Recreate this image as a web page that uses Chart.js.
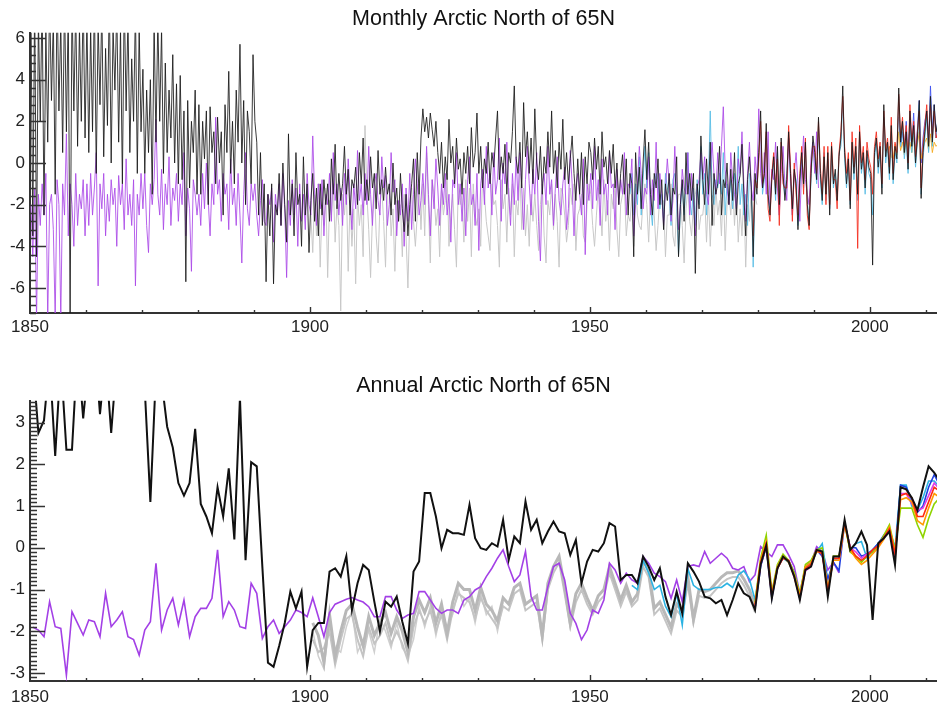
<!DOCTYPE html>
<html>
<head>
<meta charset="utf-8">
<title>Arctic North of 65N</title>
<script src="https://cdn.jsdelivr.net/npm/chart.js@4.4.1/dist/chart.umd.min.js"></script>
<style>
  html, body { margin: 0; padding: 0; background: #fff; }
  #wrap { position: relative; width: 937px; height: 709px; overflow: hidden; }
  canvas { position: absolute; left: 0; }
  #monthly { top: 0; }
  #annual { top: 350px; }
</style>
</head>
<body>
<div id="wrap">
  <canvas id="monthly" width="937" height="350"></canvas>
  <canvas id="annual" width="937" height="359"></canvas>
</div>
<script>
// ── Axes / labels ──────────────────────────────────────
const X_TICKS = [1850, 1900, 1950, 2000];
const Y_TICKS_MONTHLY = [-6, -4, -2, 0, 2, 4, 6];
const Y_TICKS_ANNUAL = [-3, -2, -1, 0, 1, 2, 3];
const TITLE_MONTHLY = 'Monthly Arctic North of 65N';
const TITLE_ANNUAL = 'Annual Arctic North of 65N';

// ── Monthly series (3 samples per year) ──
const blackMonthlyStart = 1850;
const blackMonthly = [
  7.5,-3.5,8, -4.5,7,2.0, 8,-2.5,6.5, 1.0,8,3.0, 7,-1.5,8.5, 2.5,6.8,0.5, 8,1.5,7.5, -7.5,8,2.5, 7.5,0.8,6.5, 2.0,8,1.2,
  7,0.5,6.5, 1.5,8,-0.5, 6.8,2.8,7.5, 0.3,5.5,1.8, 8,0.0,6.5, 3.5,7.5,1.0, 6.5,-1.0,8, 2.5,7.0,0.5, 5.0,2.0,7.5, -0.5,6.5,1.5,
  4.5,-0.5,3.5, 0.5,4.0,-1.5, 6.8,1.0,7.0, 2.0,6.5,-0.5, 4.8,0.5,3.5, 1.2,5.2,0.0, 3.8,-1.0,4.2, -0.8,2.5,-5.7, 3.0,-1.2,2.0, 0.5,3.5,-1.5,
  2.8,-1.5,2.0, 0.2,2.5,-2.0, 2.7,0.5,1.5, -1.0,2.2,0.0, 1.5,-2.5,2.8, 0.5,4.4,-0.5, 2.0,-1.0,3.5, 1.0,5.7,0.0, 3.0,-2.0,2.5, 1.5,-1.0,5.2,
  2.0,1.0,-2.5, 0.5,-3.0,-1.0, -5.7,-1.5,-3.5, -1.0,-5.8,-2.0, -2.5,-0.5,-3.0, 0.0,-2.0,-3.8, 1.4,-2.5,-1.0, -3.5,0.5,-2.0, -1.5,-4.0,0.3, -2.5,-1.0,-4.3,
  -1.8,-0.5,-2.8, -1.2,-3.5,-1.0, -2.5,-0.8,-2.0, -1.0,-2.8,0.2, -1.5,0.9,-2.2, -0.5,-1.8,-1.0, 0.8,-1.5,-0.3, -2.5,-0.8,-1.2, -0.2,-2.0,0.5, -1.0,1.2,-1.8,
  -0.8,-1.8,0.3, -1.2,-0.5,-2.2, 0.6,-1.5,-0.8, -1.8,-0.2,-1.5, -1.0,-2.5,0.0, -2.0,-1.2,-2.8, -0.5,-2.2,-3.3, -1.5,-3.5,-2.0, -1.0,0.2,-2.8, 0.5,-1.5,1.2,
  2.6,1.5,2.2, 1.2,2.4,1.6, 0.8,2.0,0.5, -0.5,1.0,-1.2, 0.3,-0.8,2.1, 0.0,0.8,-1.0, 1.2,-0.3,0.2, -1.5,0.5,-0.5, 0.8,-1.0,1.7, -0.2,0.5,2.4,
  -0.5,0.8,-1.2, 0.2,-0.5,1.0, -1.0,0.5,-0.2, 1.2,2.5,-0.8, 0.3,-0.5,0.9, -1.5,0.5,0.0, 1.5,3.7,0.2, -0.5,1.0,-1.2, 2.9,0.3,1.5, -0.5,1.2,-1.0,
  2.6,0.0,-0.8, 0.8,-1.5,0.3, -0.5,1.5,-0.2, 2.5,-0.5,0.6, -1.2,1.0,-0.3, 2.1,-0.8,0.5, -1.0,0.2,1.3, -0.5,-1.8,0.2, -1.5,0.5,-2.0, 0.3,-1.0,1.0,
  0.5,-0.8,1.2, -0.3,0.8,-1.5, 1.5,-0.2,0.3, -1.0,0.6,-0.5, 0.9,-1.2,0.0, -2.0,-0.5,0.4, -1.5,0.2,-2.5, -0.5,-1.0,-4.5, 0.5,-1.5,-0.2, -2.2,0.0,1.6,
  -0.8,1.0,-1.5, -2.5,-0.5,-1.2, 0.2,-2.0,-0.8, -3.2,-1.0,-1.8, -0.5,-2.5,-1.2, -1.5,0.3,-4.5, -2.0,-0.8,-2.8, 0.5,-1.5,-0.5, -1.8,-0.5,-5.3, -1.0,-2.2,1.3,
  -0.8,-2.0,0.2, -1.5,1.0,-3.0, -0.5,-1.5,-1.0, 0.8,-2.5,-0.8, -1.2,0.0,-2.0, -0.3,-1.8,0.5, -2.5,-1.0,-0.6, 0.9,-1.5,-3.5, -0.8,0.3,-1.2, -4.5,-0.5,-1.5,
  0.5,2.5,-1.2, -0.5,1.9,-1.5, -2.5,-0.8,0.3, -1.5,0.8,-2.0, 1.2,-0.5,-1.8, -0.8,1.5,-0.5, -2.2,-0.3,-1.0, -3.2,-0.8,0.5, -1.0,1.0,-2.0, -3.0,-0.5,1.3,
  0.5,-0.8,2.2, -0.5,-1.8,0.3, -1.5,0.5,-2.5, 0.8,-1.0,-0.3, -1.8,0.3,1.2, 3.7,0.5,-1.0, 0.2,-2.2,1.0, -0.5,0.8,-1.5, 1.5,-0.3,0.5, -1.2,0.6,-0.2,
  -0.5,-4.9,0.5, 1.2,-0.2,0.8, -1.5,2.8,0.3, 1.0,-0.5,1.8, -0.8,0.8,0.2, 3.6,1.0,2.0, 0.5,1.5,-0.3, 2.5,0.8,1.8, 0.0,1.2,3.0, -1.7,0.5,1.5,
  2.5,0.8,3.2, 1.0,2.8,1.5, 2.0,0.8,1.8
];

const purpleMonthlyStart = 1850;
const purpleMonthly = [
  -2.0,-4.5,-1.2, -7.5,-1.5,-3.0, -1.0,-2.5,-0.5, -7.5,-2.0,-1.5, -3.2,-7.5,-0.8, -2.0,-7.5,-1.0, -2.5,1.4,-3.5, -1.0,-2.0,-4.0, -0.5,-3.0,-1.5, -2.2,-0.8,-3.5,
  -1.0,-3.0,-0.5, -2.5,-1.2,0.5, -5.9,-1.0,-2.2, -0.5,-3.5,-1.5, -2.8,-0.8,-2.0, -1.2,-4.0,-0.6, -2.0,-1.0,-3.2, 0.2,-2.5,-1.5, -3.0,-0.8,-5.9, -1.5,-2.5,-0.5,
  -2.2,-0.5,-3.0, -4.3,-1.0,-2.0, -0.8,2.1,-1.5, -2.5,-0.3,-3.2, -1.0,-2.0,0.3, -3.0,-1.2,-1.8, -0.5,-2.8,-1.0, -2.0,0.5,-3.5, -1.2,-2.2,-5.2, -0.8,-1.5,-2.5,
  -1.5,-3.0,-0.5, -2.2,0.0,-1.8, -3.5,-1.0,-2.0, 2.2,-1.5,-0.8, -2.8,-0.5,-1.5, -1.0,-3.2,0.2, -2.0,-1.2,-3.0, -0.5,-2.5,-4.8, -1.5,0.5,-2.2, -3.0,-1.0,-1.8,
  -1.0,-2.5,-3.5, -1.8,-0.8,-2.8, -3.0,-1.5,-2.0, -1.2,-3.8,-1.5, -2.5,-1.0,-3.0, -0.5,-2.2,-5.5, -1.8,-3.0,-0.8, -2.5,-1.2,-4.0, -1.0,-2.8,-1.5, -3.2,-0.5,-2.0,
  -2.5,1.3,-1.5, -3.0,-1.0,-2.2, -0.8,-3.5,-1.5, -2.0,-0.5,-2.8, 0.5,-1.8,-1.0, -2.5,-1.2,-3.0, -0.5,-2.0,0.2, -1.5,-3.2,-1.0, -2.2,0.6,-1.8, -1.0,-2.5,-0.5,
  -2.0,0.8,-1.5, -3.0,-1.0,-0.5, -1.8,-2.5,0.3, -1.2,-0.6,-3.0, -2.0,0.5,-1.4, -0.8,-3.5,-1.8, -2.5,-1.0,-4.0, -1.2,-2.8,-0.5, -3.2,-1.5,0.2, -1.0,-2.5,-1.8,
  -0.5,-2.0,0.8, -1.5,-3.5,-0.8, -2.2,0.2,-1.2, -3.0,-1.0,-2.0, -0.5,-2.5,-1.5, -3.8,-0.8,-1.2, 0.5,-2.0,-1.0, -2.8,-1.2,-3.5, -0.8,0.3,-2.0, -1.5,-3.0,-0.5,
  -4.2,-1.0,-0.3, -2.0,0.8,-1.2, -0.5,-2.5,0.5, -1.5,-0.8,1.2, -2.8,0.0,-1.0, 1.0,-1.5,-3.0, -0.5,-2.0,0.3, -1.8,0.5,-1.2, -3.2,-0.8,0.8, -1.0,-2.5,-0.3,
  -1.5,0.5,-2.8, -4.7,-1.0,-0.5, -2.0,0.8,-1.5, -0.8,-3.0,-1.2, 0.3,-1.8,-2.5, -1.0,-0.2,-3.2, -2.2,0.6,-1.0, -3.5,-1.2,-0.5, -1.5,-2.5,0.2, -4.4,-1.0,-1.8,
  -0.5,-2.2,0.8, -1.8,-0.8,-3.0, 0.2,-1.5,-1.0, -2.5,0.5,-1.2, -1.0,-3.2,-0.3, -2.0,-0.8,-1.5, 0.5,-2.5,-1.0, -1.2,0.2,-3.5, -2.0,-1.0,0.8, -0.5,-2.2,-1.2,
  -1.5,0.3,-2.5, -0.8,-1.8,1.0, -2.2,-0.5,-1.5, -3.0,-1.2,0.2, -1.0,-2.8,-1.8, 0.8,-1.5,-3.2, -2.0,-0.3,-1.2, -1.5,0.5,-2.5, -0.5,-1.8,-3.5, -1.2,-0.8,0.5,
  -0.8,0.3,-1.5, -2.0,-0.3,1.0, -0.5,-1.5,0.5, -1.0,0.8,2.7, -0.3,-1.2,-2.0, 0.5,-0.8,-1.5, -2.2,0.2,-0.5, 1.5,-1.0,-2.8, -0.5,1.0,-1.2, -1.8,0.3,-0.8,
  2.6,-0.5,-1.2, 0.5,-1.5,1.5, -2.0,-0.3,-0.8, 1.0,-1.2,-2.5, -0.5,0.8,-1.0, -1.8,1.2,-0.3, -2.5,-0.5,0.5, -1.0,-2.8,-0.2, 1.3,-0.8,-1.5, -2.0,0.3,1.0,
  -0.5,1.5,-1.2
];

const grayMonthlyStart = 1900;
const grayMonthly = [
  -2.5,-4.3,-1.5, -3.5,-1.0,-5.0, -2.0,-3.0,-1.2, -5.5,-1.8,-2.5, -1.0,-3.8,-2.0, -3.0,-7.1,-1.5, -2.5,-1.0,-5.2, -1.8,-4.0,-2.2, -5.8,-1.5,-3.0, -2.0,-4.5,1.8,
  -1.5,-3.2,-5.5, -2.5,-0.8,-3.5, -4.8,-2.0,-1.2, -2.8,-5.0,-1.5, -1.0,-3.5,-2.2, -5.2,-1.8,-2.8, -2.0,-4.5,-1.5, -3.5,-6.0,-2.5, -1.2,-2.8,-4.0, -2.5,-1.0,-3.2,
  -1.0,-3.5,0.5, -2.0,-4.8,-0.8, -1.5,-3.0,-2.2, -4.5,-1.2,-2.5, -1.8,-0.5,-4.0, -2.5,-1.5,-3.2, -5.0,-1.0,-2.0, -1.5,-3.8,-0.8, -2.8,-1.2,-4.5, -1.0,-2.5,-3.0,
  -2.2,-4.0,-0.5, -1.5,-2.8,-3.5, -4.2,-1.0,-2.0, -1.8,-3.0,-5.0, -0.8,-2.2,-1.5, -3.8,-1.2,-2.5, -1.0,-4.5,-1.8, -2.5,-0.5,-3.2, -1.2,-3.5,-2.0, -4.0,-1.5,-2.8,
  -1.5,-3.0,-4.2, -2.0,-1.0,-3.5, -4.8,-1.8,-2.5, -1.0,-3.2,-1.5, -2.8,-5.0,-1.2, -1.5,-2.5,-3.8, -3.0,-1.2,-2.0, -1.0,-4.2,-2.5, -2.2,-1.5,-3.5, -3.8,-2.0,-1.0,
  -1.5,-3.0,-4.0, -2.5,-1.2,-2.0, -3.5,-0.8,-2.8, -1.8,-4.2,-1.5, -2.2,-1.0,-3.2, -4.5,-2.0,-1.5, -1.2,-3.5,-2.5, -2.8,-1.5,-4.0, -1.0,-2.5,-3.0, -3.2,-1.8,-1.0,
  -2.0,-3.8,-1.5, -1.2,-2.5,-4.2, -3.0,-1.5,-2.0, -1.8,-4.5,-2.5, -2.5,-1.0,-3.5, -4.0,-2.2,-1.5, -1.5,-3.0,-4.8, -2.2,-1.2,-2.8, -3.5,-2.0,-1.5, -1.0,-3.2,-2.5,
  -2.5,-1.5,-3.8, -1.5,-4.0,-2.0, -3.0,-1.2,-2.5, -1.8,-3.5,-1.0, -4.2,-2.0,-1.5, -2.5,-1.0,-3.0, -1.2,-3.8,-2.2, -3.5,-1.5,-5.0, -2.0,-2.8,-1.2, -3.2,-1.5,-2.0
];

const cyanMonthlyStart = 1957;
const cyanMonthly = [
  -1.5,-0.5,-2.5, -1.0,-2.0,0.3, -2.5,-0.8,0.8,
  -1.2,0.5,-2.0, -3.0,-1.0,-0.5, -0.8,-2.2,-1.5, -2.8,-0.5,-1.2, -1.5,-3.0,-0.8, -0.5,-1.8,-4.4, -2.2,-1.0,-2.5, -1.0,0.5,-1.8, -2.5,-1.2,-3.0, -0.8,-2.0,0.8,
  -1.5,-0.5,-2.5, -1.0,2.5,-1.5, -2.0,-0.8,-1.2, -0.5,-1.5,0.5, -2.5,-1.0,-1.8, -0.8,-2.2,-0.5, -1.5,0.8,-2.0, -1.0,-2.5,-1.5, -3.0,-0.5,-1.0, -5.0,-1.2,-0.8,
  0.5,1.5,-1.5, -0.8,1.2,-1.8, -2.2,-0.5,0.0, -1.8,0.5,-2.5, 0.8,-0.8,-1.5, -0.5,1.2,-1.0, -2.5,-0.5,-0.8, -3.0,-1.0,0.2, -1.2,0.8,-1.8, -2.8,-0.8,1.0,
  0.2,-1.0,1.8, -0.8,-2.0,0.5, -1.8,0.2,-2.2, 0.5,-1.2,-0.5, -1.5,0.5,0.8, 3.0,0.2,-1.2, 0.0,-2.0,0.8, -0.8,0.5,-1.8, 1.2,-0.5,0.3, -1.5,0.3,-0.5,
  -0.8,-2.5,0.2, 1.0,-0.5,0.5, -1.2,2.2,0.0, 0.8,-0.8,1.5, -1.0,0.5,0.0, 3.2,0.8,1.8, 0.2,1.2,-0.5, 2.2,0.5,1.5, -0.2,1.0,2.8, -1.5,0.2,1.2,
  2.2,0.5,3.0, 0.8,2.5,1.2, 1.8,0.5,1.5
];

const redMonthlyStart = 1979;
const redMonthly = [
  -3.5,-0.8,-1.2,
  0.2,2.0,-1.0, -0.5,1.5,-2.2, -2.8,-0.5,0.5, -1.2,0.2,-3.0, 1.0,-1.0,-1.2, -1.2,1.8,-0.2, -2.8,0.0,-1.5, -2.5,-0.5,0.8, -1.5,1.2,-2.5, -3.2,-0.2,0.8,
  0.8,-0.5,2.0, -0.2,-1.5,0.8, -2.0,0.8,-2.0, 1.0,-0.8,-0.8, -2.2,0.5,1.5, 3.2,0.8,-0.5, 0.5,-1.8,1.5, -0.2,1.2,-4.1, 1.8,0.0,0.8, -0.8,1.0,0.2,
  -0.2,-1.5,0.8, 1.5,0.2,1.0, -1.0,2.5,0.6, 1.2,-0.2,2.2, -0.5,1.0,0.5, 3.3,1.2,2.2, 0.8,1.8,0.0, 2.8,1.0,2.0, 0.3,1.5,2.5, -1.2,0.8,1.8,
  2.8,1.0,2.8, 1.2,2.5,1.2, 1.5,1.0,1.5
];

const orangeMonthlyStart = 2003;
const orangeMonthly = [
  0.5,0.8,0.3, 0.2,0.9,0.4, 1.5,0.6,1.0, 0.4,1.2,0.7, 1.0,0.5,1.3, 0.6,0.9,1.5, 0.2,0.7,1.0, 1.2,0.6,1.4, 0.5,1.0,0.8, 0.9,0.5,0.7
];

const blueMonthlyStart = 2005;
const blueMonthly = [
  2.2,0.8,1.5, 0.6,2.0,0.3, 1.8,0.8,2.4, 0.5,1.6,3.0, 0.0,1.2,2.0, 2.5,1.0,3.7, 1.5,2.8,1.2, 2.2,1.0,2.8
];

// ── Annual series (one value per year) ──
const blackAnnualStart = 1850;
const blackAnnual = [
  4.5, 2.75, 3.05, 4.5, 2.2, 4.5, 2.35, 2.35, 4.8, 3.1,
  4.5, 5.0, 3.2, 4.6, 2.75, 4.5, 5.5, 4.8, 5.2, 4.6,
  3.8, 1.1, 4.2, 4.0, 2.9, 2.4, 1.55, 1.25, 1.55, 2.85,
  1.05, 0.75, 0.35, 1.45, 0.75, 1.9, 0.2, 3.6, -0.3, 2.05,
  1.95, -0.45, -2.75, -2.85, -2.35, -1.8, -1.05, -1.45, -1.05, -2.85,
  -1.97, -1.8, -1.8, -0.57, -0.49, -0.69, -0.2, -1.49, -0.85, -0.41,
  -0.53, -1.29, -2.0, -1.29, -1.41, -1.17, -1.77, -2.29, -0.57, -0.33,
  1.31, 1.31, 0.75, -0.01, 0.43, 0.35, 0.35, 0.31, 1.03, 0.23,
  -0.01, -0.05, 0.11, 0.03, 0.67, -0.29, 0.27, 0.11, 1.11, 0.43,
  0.67, 0.11, 0.39, 0.63, 0.39, 0.35, -0.17, 0.19, -0.85, -0.33,
  -0.05, -0.09, 0.11, 0.59, 0.51, -0.77, -0.65, -0.65, -0.85, -0.21,
  -0.45, -0.77, -0.49, -1.17, -1.61, -1.05, -1.57, -0.37, -0.57, -0.81,
  -1.17, -1.21, -1.33, -1.25, -1.61, -1.25, -0.85, -1.09, -1.17, -1.49,
  -0.4, 0.05, -1.21, -0.49, -0.21, -0.33, -0.69, -1.25, -0.53, -0.45,
  -0.05, -0.09, -1.17, -0.21, -0.21, 0.67, -0.05, 0.11, 0.39, 0.07,
  -1.73, 0.11, 0.23, 0.39, -0.41, 1.45, 1.4, 1.2, 0.9, 1.45,
  1.95, 1.8, 1.6
];

const purpleAnnualStart = 1850;
const purpleAnnual = [
  -1.9, -1.97, -2.13, -1.29, -1.89, -1.93, -3.05, -1.53, -1.81, -2.09,
  -1.73, -1.77, -2.13, -1.09, -1.89, -1.73, -1.53, -2.13, -2.2, -2.57,
  -1.97, -1.77, -0.37, -1.97, -1.49, -1.21, -1.85, -1.25, -2.13, -1.65,
  -1.45, -1.45, -1.21, -0.05, -1.65, -1.29, -1.49, -1.89, -1.93, -0.85,
  -1.09, -2.17, -1.89, -1.73, -2.05, -1.89, -1.73, -1.49, -1.55, -1.65,
  -1.2, -1.65, -2.13, -1.55, -1.35, -1.29, -1.23, -1.19, -1.25, -1.3,
  -1.41, -1.65, -1.65, -1.17, -1.17, -1.49, -1.69, -1.61, -1.57, -1.05,
  -1.05, -1.25, -1.45, -1.57, -1.49, -1.49, -1.57, -1.25, -1.17, -1.01,
  -0.93, -0.69, -0.49, -0.25, -0.05, -0.45, -0.81, -0.65, -0.09, -1.17,
  -1.49, -1.49, -0.93, -0.45, -0.37, -0.77, -1.57, -1.81, -2.2, -1.97,
  -1.49, -1.57, -1.25, -0.37, -0.53, -0.85, -0.61, -0.77, -0.85, -0.21,
  -0.37, -0.61, -0.69, -0.81, -1.21, -0.77, -1.29, -0.45, -0.41, -0.45,
  -0.09, -0.37, -0.25, -0.13, -0.25, -0.49, -0.53, -0.45, -0.81, -0.65,
  0.03, -0.09, -0.21, 0.07, 0.07, -0.17, -0.45, -1.09, -0.45, -0.37,
  0.03, -0.09, -0.53, -0.35, -0.6
];

const grayAnnualStart = 1900;
const grayAnnualA = [
  -1.8, -2.1, -2.75, -1.6, -2.6, -2.0, -1.5, -1.35, -1.9, -2.35,
  -1.65, -2.1, -1.8, -1.55, -2.05, -1.65, -2.0, -2.5, -1.65, -1.25,
  -1.55, -1.2, -1.8, -1.35, -2.05, -1.3, -0.85, -1.0, -1.0, -1.5,
  -0.95, -1.35, -1.5, -1.75, -1.2, -1.35, -0.95, -0.85, -1.35, -1.25,
  -1.15, -2.1, -0.85, -0.45, -0.2, -0.95, -1.8, -1.1, -0.85, -1.2,
  -1.5, -1.15, -1.0, -0.45, -0.85, -1.25, -0.9, -1.3, -1.1, -0.3,
  -0.55, -1.45, -1.3, -1.6, -1.9, -1.35, -1.5, -0.7, -1.7, -1.0,
  -1.05, -1.0, -0.85, -0.7, -0.6, -0.6, -0.55, -0.75, -1.0, -1.4
];
const grayAnnualB = [
  -2.2, -2.5, -2.4, -2.0, -2.8, -2.2, -1.7, -1.6, -2.2, -2.6,
  -1.9, -2.3, -2.1, -1.8, -2.3, -2.0, -2.3, -2.7, -1.9, -1.5,
  -1.8, -1.5, -2.0, -1.6, -2.2, -1.5, -1.1, -1.2, -1.3, -1.7,
  -1.2, -1.5, -1.7, -1.9, -1.4, -1.5, -1.1, -1.0, -1.5, -1.4,
  -1.3, -2.2, -1.0, -0.6, -0.35, -1.1, -1.9, -1.3, -1.0, -1.35,
  -1.6, -1.3, -1.15, -0.6, -1.0, -1.4, -1.05, -1.4, -1.25, -0.45,
  -0.7, -1.6, -1.45, -1.75, -2.05, -1.5, -1.65, -0.85, -1.8, -1.15,
  -1.2, -1.15, -1.0, -0.85, -0.75, -0.7, -0.7, -0.9, -1.15, -1.55
];
const grayAnnualC = [
  -2.0, -2.6, -2.9, -1.8, -2.4, -2.5, -1.9, -1.5, -2.5, -2.2,
  -2.0, -2.5, -1.7, -2.0, -2.4, -1.8, -2.4, -2.6, -2.2, -1.4,
  -1.9, -1.4, -2.1, -1.5, -1.9, -1.6, -1.0, -1.4, -1.2, -1.8,
  -1.1, -1.6, -1.4, -2.0, -1.3
];

const cyanAnnualStart = 1957;
const cyanAnnual = [
  -0.9, -1.0, -0.3, -0.6, -1.0, -0.9, -1.4, -1.65, -1.1, -1.85,
  -0.5, -0.9, -1.0, -1.0, -1.0, -0.95, -0.95, -0.85, -0.95, -0.65,
  -0.55, -0.75, -1.25, -0.4, 0.0, -1.1, -0.45, -0.25, -0.35, -0.6,
  -1.1, -0.5, -0.4, -0.1, 0.1, -0.8, -0.3, -0.25, 0.6, -0.05,
  0.1, 0.15, -0.25, -0.05, 0.1, 0.25, 0.45, 0.0, 1.5, 1.5,
  1.0, 0.9, 1.2, 1.6, 1.6, 1.45
];

const recentAnnualStart = 1979;
const redAnnual = [
  -1.4, -0.35, 0.1, -1.15, -0.5, -0.25, -0.3, -0.7, -1.2, -0.5, -0.4,
  -0.05, -0.15, -1.05, -0.25, -0.25, 0.6, 0.0, -0.2, -0.3, -0.2,
  -0.05, 0.05, 0.25, 0.45, -0.15, 1.25, 1.3, 1.2, 0.75, 0.75, 1.1, 1.45, 1.35
];
const orangeAnnual = [
  -1.35, -0.3, 0.15, -1.1, -0.45, -0.2, -0.35, -0.65, -1.15, -0.45, -0.35,
  -0.1, -0.1, -1.0, -0.3, -0.3, 0.55, -0.05, -0.25, -0.4, -0.3,
  -0.15, 0.0, 0.2, 0.5, -0.1, 1.15, 1.2, 1.1, 0.65, 0.55, 0.95, 1.3, 1.2
];
const greenAnnual = [
  -1.3, -0.25, 0.3, -1.05, -0.4, -0.15, -0.3, -0.6, -1.1, -0.4, -0.3,
  -0.05, 0.0, -1.0, -0.2, -0.2, 0.6, -0.1, -0.2, -0.35, -0.2,
  -0.1, 0.05, 0.3, 0.55, -0.05, 0.95, 0.95, 0.95, 0.55, 0.25, 0.7, 1.05, 1.2
];
const blueAnnual = [
  -1.45, -0.45, 0.05, -1.2, -0.5, -0.2, -0.3, -0.6, -1.2, -0.45, -0.35,
  -0.05, -0.2, -0.75, -0.35, -0.55, 0.6, 0.0, 0.0, -0.2, -0.15,
  -0.05, 0.1, 0.3, 0.45, -0.25, 1.5, 1.45, 1.15, 0.85, 1.0, 1.45, 1.75, 1.5
];
const magentaAnnual = [
  -1.4, -0.4, 0.0, -1.15, -0.45, -0.25, -0.3, -0.65, -1.2, -0.55, -0.45,
  -0.05, -0.15, -0.95, -0.3, -0.3, 0.6, 0.0, -0.1, -0.25, -0.15,
  -0.1, 0.05, 0.25, 0.4, -0.2, 1.3, 1.3, 1.05, 0.9, 0.95, 1.25, 1.55, 1.4
];

// ── Helpers ────────────────────────────────────────────
const FONT = "'Liberation Sans', Arial, Helvetica, sans-serif";
const X_MIN = 1850, X_MAX = 2012;

function monthlyPoints(start, values) {
    return values.map((v, i) => ({ x: start + (i + 0.5) / 3, y: v }));
}
function annualPoints(start, values) {
    return values.map((v, i) => ({ x: start + i + 0.5, y: v }));
}
function series(data, color, width) {
    return { data, borderColor: color, borderWidth: width, pointRadius: 0, tension: 0, fill: false };
}

// tick marks drawn inward from the axes (major + minor)
const insideTicks = {
    id: 'insideTicks',
    afterDraw(chart, args, o) {
        const { ctx, chartArea: a, scales: { x, y } } = chart;
        ctx.save();
        ctx.strokeStyle = '#333';
        ctx.lineWidth = 1.4;
        ctx.beginPath();
        for (let v = X_MIN + 10; v <= x.max; v += 10) {
            const px = Math.round(x.getPixelForValue(v)) + 0.5;
            const len = v % 50 === 0 ? 6 : 3;
            ctx.moveTo(px, a.bottom);
            ctx.lineTo(px, a.bottom - len);
        }
        const k0 = Math.ceil(y.min / o.minor - 1e-9), k1 = Math.floor(y.max / o.minor + 1e-9);
        for (let k = k0; k <= k1; k++) {
            const v = k * o.minor;
            const r = v / o.major;
            const isMajor = Math.abs(r - Math.round(r)) < 1e-6;
            const py = Math.round(y.getPixelForValue(v)) + 0.5;
            ctx.moveTo(a.left, py);
            ctx.lineTo(a.left + (isMajor ? o.majorLen : o.minorLen), py);
        }
        ctx.stroke();
        ctx.restore();
    }
};

function makePanel(id, cfg) {
    return new Chart(document.getElementById(id), {
        type: 'line',
        data: { datasets: cfg.datasets },
        plugins: [insideTicks],
        options: {
            responsive: false,
            animation: false,
            parsing: false,
            normalized: true,
            layout: { padding: 0 },
            plugins: {
                legend: { display: false },
                tooltip: { enabled: false },
                title: {
                    display: true, text: cfg.title, fullSize: false, color: '#111',
                    font: { family: FONT, size: 21.5, weight: 'normal' },
                    padding: cfg.titlePad
                },
                insideTicks: cfg.ticks
            },
            scales: {
                x: {
                    type: 'linear', min: X_MIN, max: X_MAX,
                    afterBuildTicks: s => { s.ticks = X_TICKS.map(v => ({ value: v })); },
                    afterFit: s => { s.height = cfg.xHeight; },
                    grid: { display: false, drawTicks: false },
                    border: { display: true, color: '#333', width: 2 },
                    ticks: { color: '#222', font: { family: FONT, size: 17 }, padding: cfg.xPad,
                             maxRotation: 0, autoSkip: false, callback: v => String(v) }
                },
                y: {
                    type: 'linear', min: cfg.yMin, max: cfg.yMax,
                    afterBuildTicks: s => { s.ticks = cfg.yTicks.map(v => ({ value: v })); },
                    afterFit: s => { s.width = 30; },
                    grid: { display: false, drawTicks: false },
                    border: { display: true, color: '#333', width: 2 },
                    ticks: { color: '#222', font: { family: FONT, size: 17 }, padding: 5,
                             callback: v => String(v) }
                }
            }
        }
    });
}

// ── Monthly panel ──────────────────────────────────────
makePanel('monthly', {
    title: TITLE_MONTHLY,
    titlePad: { top: 6, bottom: 1 },
    xHeight: 37, xPad: 4,
    yMin: -7.2, yMax: 6.25, yTicks: Y_TICKS_MONTHLY,
    ticks: { major: 2, minor: 0.4, majorLen: 16, minorLen: 6 },
    datasets: [
        series(monthlyPoints(blackMonthlyStart, blackMonthly), 'rgba(25,25,25,0.85)', 1),
        series(monthlyPoints(redMonthlyStart, redMonthly), 'rgba(245,50,35,0.9)', 1),
        series(monthlyPoints(purpleMonthlyStart, purpleMonthly), 'rgba(170,72,232,0.85)', 1),
        series(monthlyPoints(cyanMonthlyStart, cyanMonthly), 'rgba(90,190,230,0.9)', 1),
        series(monthlyPoints(orangeMonthlyStart, orangeMonthly), 'rgba(245,170,30,0.9)', 1),
        series(monthlyPoints(blueMonthlyStart, blueMonthly), 'rgba(60,80,240,0.85)', 1),
        series(monthlyPoints(grayMonthlyStart, grayMonthly), '#c8c8c8', 1)
    ]
});

// ── Annual panel ───────────────────────────────────────
makePanel('annual', {
    title: TITLE_ANNUAL,
    titlePad: { top: 23, bottom: 2 },
    xHeight: 28, xPad: 6,
    yMin: -3.19, yMax: 3.52, yTicks: Y_TICKS_ANNUAL,
    ticks: { major: 1, minor: 0.1, majorLen: 15, minorLen: 7 },
    datasets: [
        series(annualPoints(blackAnnualStart, blackAnnual), '#111', 2),
        series(annualPoints(recentAnnualStart, redAnnual), '#ff2a10', 1.6),
        series(annualPoints(recentAnnualStart, orangeAnnual), '#ff9a00', 1.6),
        series(annualPoints(recentAnnualStart, greenAnnual), '#8fd400', 1.6),
        series(annualPoints(recentAnnualStart, magentaAnnual), '#e040e8', 1.6),
        series(annualPoints(recentAnnualStart, blueAnnual), '#2040e0', 1.6),
        series(annualPoints(cyanAnnualStart, cyanAnnual), '#2bb3e3', 1.6),
        series(annualPoints(purpleAnnualStart, purpleAnnual), '#a340e6', 1.6),
        series(annualPoints(grayAnnualStart, grayAnnualA), '#b8b8b8', 3),
        series(annualPoints(grayAnnualStart, grayAnnualB), '#c4c4c4', 2),
        series(annualPoints(grayAnnualStart, grayAnnualC), '#cfcfcf', 1.5)
    ]
});
</script>
</body>
</html>
